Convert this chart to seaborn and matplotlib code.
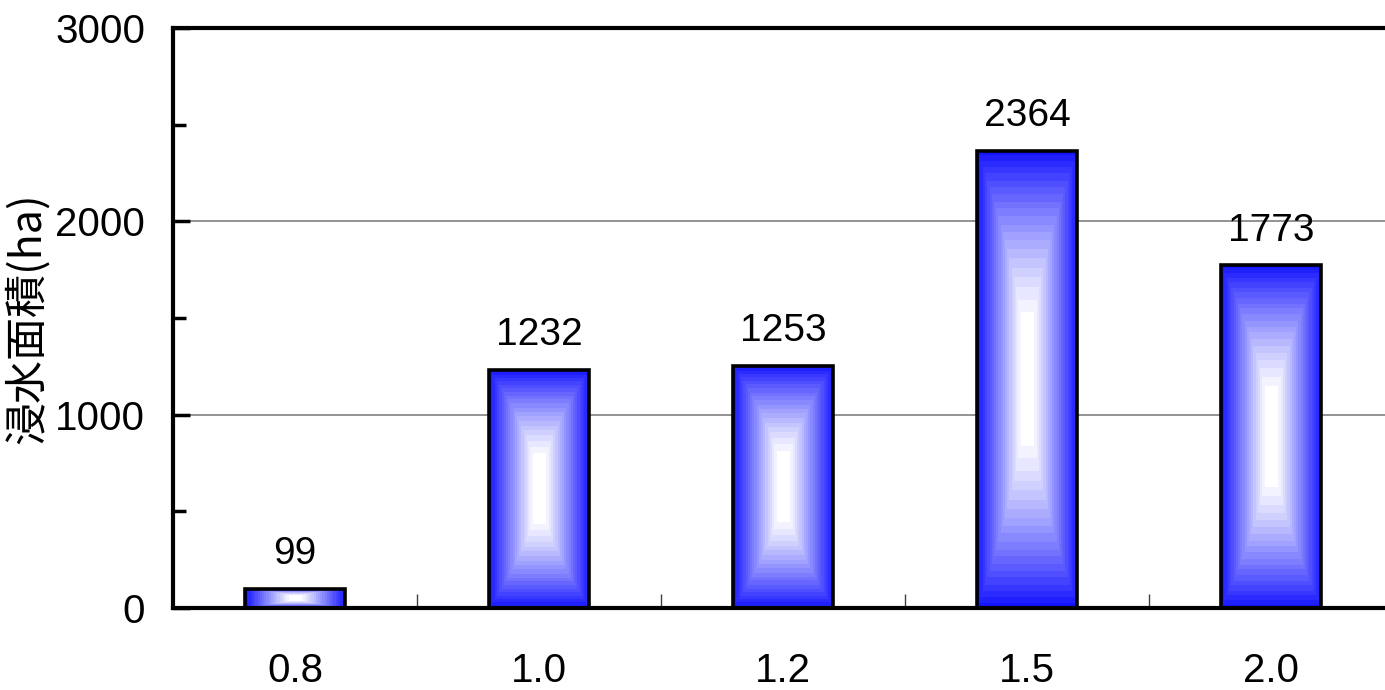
import numpy as np
import pandas as pd
import matplotlib
matplotlib.use("Agg")
import matplotlib.pyplot as plt
from matplotlib import font_manager
from matplotlib.ticker import MultipleLocator, FixedLocator
import seaborn as sns

# Flood depth scenarios and inundated area (ha)
categories = ["0.8", "1.0", "1.2", "1.5", "2.0"]
values = [99, 1232, 1253, 2364, 1773]
y_ticks = [0, 1000, 2000, 3000]
y_label = "浸水面積(ha)"

df = pd.DataFrame({"depth": categories, "area": values})

sns.set_theme(style="white")


def pick_font(names):
    for n in names:
        try:
            font_manager.findfont(n, fallback_to_default=False)
            return n
        except Exception:
            continue
    return "DejaVu Sans"


num_font = pick_font(["Liberation Sans Narrow", "Liberation Sans", "DejaVu Sans"])
plt.rcParams["font.family"] = [num_font, "Noto Sans CJK JP", "DejaVu Sans"]
plt.rcParams["text.color"] = "black"
plt.rcParams["axes.labelcolor"] = "black"
plt.rcParams["xtick.color"] = "black"
plt.rcParams["ytick.color"] = "black"

fig = plt.figure(figsize=(13.85, 6.9), dpi=100)
ax = fig.add_axes([173 / 1385, 82 / 690, (1393 - 173) / 1385, 580 / 690])

sns.barplot(data=df, x="depth", y="area", ax=ax, width=0.41,
            facecolor="none", edgecolor="black", linewidth=2.6, zorder=3)

# Gradient fill: blue at the edges fading to white at the centre of each bar
blue = np.array([0.08, 0.08, 1.0])
white = np.array([1.0, 1.0, 1.0])
ny, nx = 300, 120
uu, vv = np.meshgrid(np.linspace(-1, 1, nx), np.linspace(-1, 1, ny))
for p in ax.patches:
    x0, y0 = p.get_x(), p.get_y()
    w, h = p.get_width(), p.get_height()
    t = np.maximum(np.abs(uu), np.abs(vv) ** 1.6)
    t = np.clip((t - 0.12) / 0.88, 0, 1)
    t = np.round(t * 20) / 20
    img = white[None, None, :] * (1 - t[..., None]) + blue[None, None, :] * t[..., None]
    im = ax.imshow(img, extent=(x0, x0 + w, y0, y0 + h), aspect="auto",
                   interpolation="nearest", zorder=2, origin="lower")
    im.set_clip_path(p)

ax.set_xlim(-0.5, len(categories) - 0.5)
ax.set_ylim(0, 3000)

# Axes frame
for side in ["left", "bottom", "top"]:
    ax.spines[side].set_visible(True)
    ax.spines[side].set_color("black")
    ax.spines[side].set_linewidth(3)
ax.spines["right"].set_visible(False)

# Horizontal gridlines
ax.yaxis.set_major_locator(FixedLocator(y_ticks))
ax.yaxis.set_minor_locator(MultipleLocator(500))
ax.grid(axis="y", which="major", color="#808080", linewidth=1.2, zorder=1)
ax.set_axisbelow(True)

ax.tick_params(axis="y", which="major", direction="in", length=12, width=2.5,
               labelsize=29, pad=20, left=True)
ax.tick_params(axis="y", which="minor", direction="in", length=9, width=2.5, left=True)

ax.xaxis.set_minor_locator(FixedLocator(np.arange(0.5, len(categories) - 0.5, 1)))
ax.tick_params(axis="x", which="major", length=0, labelsize=29, pad=32)
ax.tick_params(axis="x", which="minor", direction="in", length=10, width=1,
               color="#404040", bottom=True)

ax.set_xlabel("")
ax.set_ylabel(y_label, fontsize=31, labelpad=4,
              family=["Noto Sans CJK JP", "DejaVu Sans"])

for c in ax.containers:
    ax.bar_label(c, labels=[str(v) for v in values], padding=12, fontsize=28)

fig.savefig("out.png", dpi=100)
